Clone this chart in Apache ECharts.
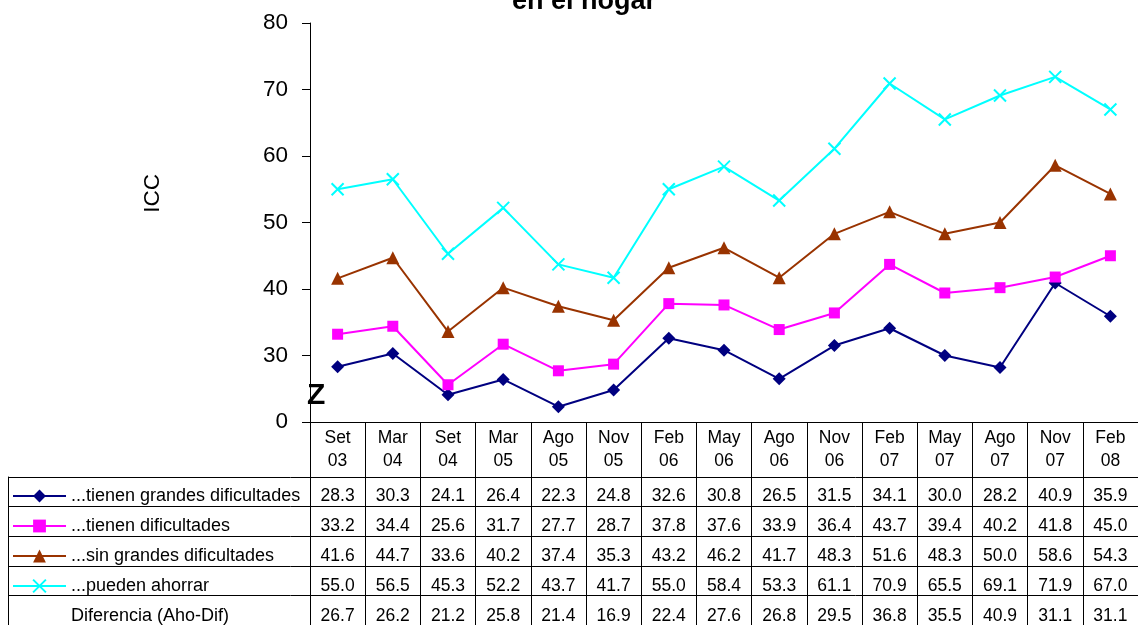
<!DOCTYPE html>
<html>
<head>
<meta charset="utf-8">
<script src="https://cdn.jsdelivr.net/npm/echarts@6/dist/echarts.min.js"></script>
<style>html,body{margin:0;padding:0;background:#fff}#c{width:1138px;height:625px}</style>
</head>
<body>
<div id="c"></div>
<script>
const categories = ['Set 03','Mar 04','Set 04','Mar 05','Ago 05','Nov 05','Feb 06','May 06','Ago 06','Nov 06','Feb 07','May 07','Ago 07','Nov 07','Feb 08'];
const grandesDificultades = [28.3,30.3,24.1,26.4,22.3,24.8,32.6,30.8,26.5,31.5,34.1,30.0,28.2,40.9,35.9];
const dificultades = [33.2,34.4,25.6,31.7,27.7,28.7,37.8,37.6,33.9,36.4,43.7,39.4,40.2,41.8,45.0];
const sinGrandes = [41.6,44.7,33.6,40.2,37.4,35.3,43.2,46.2,41.7,48.3,51.6,48.3,50.0,58.6,54.3];
const puedenAhorrar = [55.0,56.5,45.3,52.2,43.7,41.7,55.0,58.4,53.3,61.1,70.9,65.5,69.1,71.9,67.0];
const diferencia = [26.7,26.2,21.2,25.8,21.4,16.9,22.4,27.6,26.8,29.5,36.8,35.5,40.9,31.1,31.1];
const seriesNames = ['...tienen grandes dificultades','...tienen dificultades','...sin grandes dificultades','...pueden ahorrar','Diferencia (Aho-Dif)'];
const tableRows = ['r1','r2','r3','r4','r5'];

const FONT = 'Liberation Sans, Arial, sans-serif';
const chart = echarts.init(document.getElementById('c'));
const fmt = v => v.toFixed(1);
const xPath = 'path://M0,0L10,10M10,0L0,10';

chart.setOption({
  animation: false,
  backgroundColor: '#fff',
  textStyle: { fontFamily: FONT },
  title: {
    text: 'en el hogar', left: 507, top: -17,
    textStyle: { fontSize: 27, fontWeight: 'bold', color: '#000', fontFamily: FONT }
  },
  legend: {
    orient: 'vertical', left: 12, top: 487, padding: 0, height: 200,
    itemWidth: 53, itemHeight: 16, itemGap: 12,
    selectedMode: false,
    textStyle: { fontSize: 18, color: '#000', lineHeight: 16, fontFamily: FONT },
    data: [seriesNames[0], seriesNames[1], seriesNames[2], seriesNames[3], { name: seriesNames[4], icon: 'none' }]
  },
  grid: [
    { left: 310, top: 23, width: 838, height: 399 },
    { left: 8, top: 477, width: 1140, height: 152.5 }
  ],
  xAxis: [
    {
      gridIndex: 0, type: 'category', data: categories, boundaryGap: true,
      axisLine: { show: true, lineStyle: { color: '#000', width: 1 } },
      axisTick: { show: true, length: 210, lineStyle: { color: '#000', width: 1 } },
      splitLine: { show: false },
      axisLabel: {
        interval: 0, margin: 4.5, color: '#000',
        formatter: (value, idx) => {
          const p = value.split(' ');
          return '{h|' + p[0] + '}\n{h|' + p[1] + '}\n{s| }\n{d|' + fmt(grandesDificultades[idx]) + '}\n{d|' +
            fmt(dificultades[idx]) + '}\n{d|' + fmt(sinGrandes[idx]) + '}\n{d|' + fmt(puedenAhorrar[idx]) + '}\n{d|' +
            fmt(diferencia[idx]) + '}';
        },
        rich: {
          h: { fontSize: 17.5, lineHeight: 23, color: '#000', fontFamily: FONT },
          s: { fontSize: 1, lineHeight: 8.5 },
          d: { fontSize: 17.5, lineHeight: 30, color: '#000', fontFamily: FONT }
        }
      }
    },
    { gridIndex: 1, type: 'value', show: false, min: 0, max: 1 }
  ],
  yAxis: [
    {
      gridIndex: 0, type: 'value', min: 20, max: 80, interval: 10,
      name: 'ICC', nameLocation: 'middle', nameGap: 146,
      nameTextStyle: { fontSize: 22.5, color: '#000', fontFamily: FONT, padding: [0, 0, 0, 58] },
      axisLine: { show: true, lineStyle: { color: '#000', width: 1 } },
      axisTick: { show: true, length: 8, lineStyle: { color: '#000' } },
      splitLine: { show: false },
      axisLabel: { fontSize: 22.5, color: '#000', margin: 22, fontFamily: FONT,
        formatter: v => (v === 20 ? '0' : String(v)) }
    },
    {
      gridIndex: 1, type: 'category', data: tableRows, inverse: true, boundaryGap: true,
      axisLine: { show: true, lineStyle: { color: '#000', width: 1 } },
      axisTick: { show: false }, axisLabel: { show: false },
      splitLine: { show: true, lineStyle: { color: '#000', width: 1 } }
    }
  ],
  graphic: [
    { type: 'text', left: 307, top: 381, style: { text: 'Z', font: 'bold 30px ' + FONT, fill: '#000' } }
  ],
  series: [
    { name: seriesNames[0], type: 'line', data: grandesDificultades, symbol: 'diamond', symbolSize: 13,
      color: '#000080', lineStyle: { width: 2, color: '#000080' }, itemStyle: { color: '#000080' } },
    { name: seriesNames[1], type: 'line', data: dificultades, symbol: 'rect', symbolSize: 11,
      color: '#FF00FF', lineStyle: { width: 2, color: '#FF00FF' }, itemStyle: { color: '#FF00FF' } },
    { name: seriesNames[2], type: 'line', data: sinGrandes, symbol: 'triangle', symbolSize: 13,
      color: '#993300', lineStyle: { width: 2, color: '#993300' }, itemStyle: { color: '#993300' } },
    { name: seriesNames[3], type: 'line', data: puedenAhorrar, symbol: xPath, symbolSize: 12,
      color: '#00FFFF', lineStyle: { width: 2, color: '#00FFFF' },
      itemStyle: { color: '#00FFFF', borderColor: '#00FFFF', borderWidth: 2 } },
    { name: seriesNames[4], type: 'line', data: [], symbol: 'none', color: '#000',
      lineStyle: { opacity: 0 } }
  ]
});
</script>
</body>
</html>
